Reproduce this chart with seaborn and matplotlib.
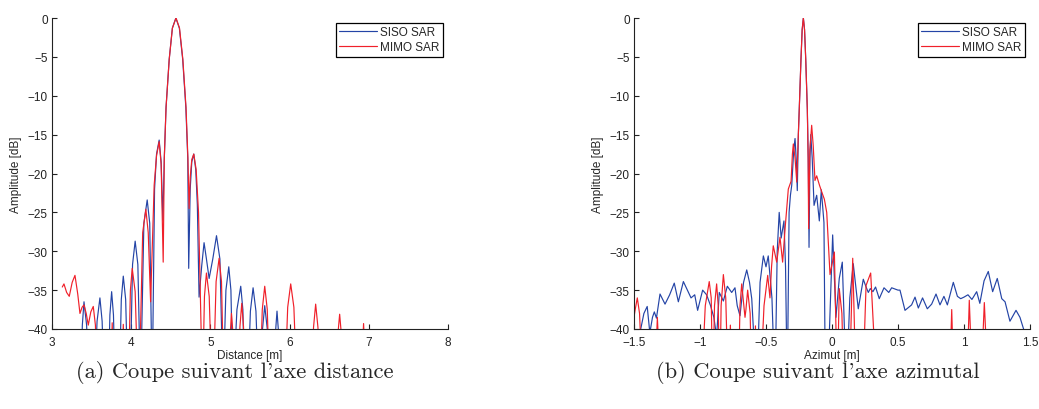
import numpy as np
import pandas as pd
import matplotlib
matplotlib.use("Agg")
import matplotlib.pyplot as plt
import seaborn as sns

# --- coupe suivant l'axe distance (dB values) ---
dist_siso_x = [3.15, 3.362, 3.383, 3.404, 3.437, 3.47, 3.533, 3.569, 3.605, 3.633, 3.66,
               3.71, 3.731, 3.753, 3.776, 3.80, 3.849, 3.875, 3.90, 3.93, 3.96,
               3.984, 4.017, 4.05, 4.084, 4.118, 4.16, 4.202, 4.234, 4.265,
               4.295, 4.32, 4.353, 4.378, 4.40, 4.418, 4.44, 4.48, 4.52, 4.564,
               4.608, 4.65, 4.69, 4.714, 4.726, 4.745, 4.765, 4.79, 4.815, 4.835,
               4.857, 4.89, 4.92, 4.95, 4.984, 5.03, 5.077, 5.12, 5.16, 5.196,
               5.232, 5.259, 5.286, 5.335, 5.383, 5.41, 5.434, 5.47, 5.505, 5.539,
               5.575, 5.61, 5.63, 5.658, 5.686, 5.718, 5.749, 5.80, 5.82, 5.841,
               5.862, 5.884, 7.0]
dist_siso_db = [-48, -48, -39.5, -36.5, -39.5, -48, -48, -39.0, -36.0, -39.0, -48,
                -48, -38.2, -35.2, -38.2, -48, -48, -36.2, -33.2, -36.2, -48,
                -48, -31.7, -28.7, -31.7, -48, -26.4, -23.4, -26.4, -48,
                -22.0, -17.5, -15.7, -18.5, -26.0, -18.0, -11.5, -5.3, -1.3, 0.0,
                -1.3, -5.3, -11.5, -18.0, -32.2, -22.0, -18.5, -17.5, -19.5, -24.0,
                -35.9, -31.9, -28.9, -31.0, -33.5, -31.0, -28.0, -31.0, -48, -35.0,
                -32.0, -35.0, -48, -37.5, -34.5, -37.5, -48, -48, -37.7, -34.7,
                -37.7, -48, -48, -40.0, -37.0, -40.0, -48, -48, -40.7, -37.7,
                -40.7, -48, -48]

dist_mimo_x = [3.13, 3.151, 3.185, 3.218, 3.255, 3.29, 3.325, 3.353, 3.38, 3.404,
               3.432, 3.458, 3.49, 3.521, 3.548, 3.571, 3.74, 3.76, 3.78, 3.88,
               3.90, 3.92, 3.962, 3.99, 4.013, 4.05, 4.088, 4.10, 4.145, 4.185,
               4.215, 4.245, 4.29, 4.32, 4.353, 4.378, 4.404, 4.418, 4.44, 4.48,
               4.52, 4.566, 4.61, 4.652, 4.692, 4.716, 4.731, 4.745, 4.765, 4.79,
               4.82, 4.85, 4.90, 4.925, 4.95, 4.985, 5.02, 5.034, 5.072, 5.11,
               5.14, 5.17, 5.23, 5.248, 5.266, 5.288, 5.31, 5.35, 5.373, 5.396,
               5.418, 5.44, 5.623, 5.655, 5.686, 5.718, 5.749, 5.938, 5.976, 6.014,
               6.054, 6.093, 6.275, 6.302, 6.329, 6.358, 6.388, 6.58, 6.606, 6.632,
               6.657, 6.682, 6.91, 6.922, 6.934, 6.945, 6.955, 7.0]
dist_mimo_db = [-34.6, -34.2, -35.3, -35.8, -34.0, -33.1, -35.5, -38.0, -37.2, -36.9,
                -38.0, -39.5, -37.8, -37.1, -39.5, -48, -48, -39.2, -48, -48,
                -39.4, -48, -48, -35.0, -32.2, -35.2, -48, -48, -27.6, -24.6,
                -27.6, -36.5, -21.5, -17.7, -15.9, -18.8, -31.4, -18.0, -11.5, -5.3,
                -1.3, 0.0, -1.3, -5.3, -11.5, -18.0, -24.5, -20.5, -18.2, -17.5,
                -19.5, -25.0, -48, -35.8, -32.8, -35.8, -48, -48, -33.9, -30.9,
                -33.9, -48, -48, -41.0, -38.0, -41.0, -48, -48, -39.7, -36.7,
                -39.7, -48, -48, -37.5, -34.5, -37.5, -48, -48, -37.2, -34.2,
                -37.2, -48, -48, -39.8, -36.8, -39.8, -48, -48, -41.1, -38.1,
                -41.1, -48, -48, -42.0, -39.3, -42.0, -48, -48]

# --- coupe suivant l'axe azimutal ---
azi_siso_x = [-1.50, -1.455, -1.425, -1.400, -1.38, -1.36, -1.346, -1.33, -1.303, -1.265,
              -1.23, -1.195, -1.164, -1.126, -1.09, -1.068, -1.04, -1.018, -0.98, -0.95,
              -0.92, -0.895, -0.874, -0.854, -0.823, -0.793, -0.76, -0.735, -0.718, -0.697,
              -0.67, -0.646, -0.625, -0.608, -0.57, -0.545, -0.52, -0.50, -0.483, -0.455,
              -0.432, -0.415, -0.400, -0.385, -0.364, -0.352, -0.339, -0.325, -0.315, -0.305,
              -0.29, -0.28, -0.27, -0.263, -0.255, -0.248, -0.235, -0.226, -0.217, -0.208,
              -0.199, -0.187, -0.180, -0.174, -0.167, -0.161, -0.150, -0.136, -0.116, -0.096,
              -0.081, -0.061, -0.05, -0.035, 0.005, 0.03, 0.055, 0.078, 0.109, 0.135,
              0.161, 0.199, 0.237, 0.256, 0.275, 0.29, 0.31, 0.33, 0.358, 0.394,
              0.43, 0.452, 0.50, 0.515, 0.553, 0.603, 0.629, 0.654, 0.686, 0.722,
              0.755, 0.788, 0.818, 0.848, 0.874, 0.919, 0.95, 0.975, 1.00, 1.03,
              1.06, 1.096, 1.12, 1.152, 1.184, 1.217, 1.252, 1.286, 1.311, 1.348,
              1.394, 1.424, 1.455, 1.47]
azi_siso_db = [-46, -40.5, -38.0, -37.1, -40.5, -38.5, -37.8, -38.6, -35.5, -36.8,
               -35.6, -34.1, -36.5, -33.9, -35.2, -36.0, -35.6, -37.6, -35.0, -35.6,
               -37.0, -38.5, -41.0, -35.3, -36.4, -34.5, -35.3, -34.7, -37.0, -38.3,
               -34.0, -32.4, -34.0, -36.1, -48, -34.0, -30.6, -32.0, -30.6, -36.0,
               -48, -30.0, -25.0, -28.3, -26.1, -32.0, -48, -25.0, -22.8, -21.5,
               -17.0, -15.5, -18.5, -22.2, -15.0, -11.7, -5.3, -1.5, 0.0, -1.5,
               -5.3, -11.7, -18.0, -29.5, -18.0, -15.0, -18.0, -24.1, -22.8, -26.1,
               -22.1, -26.3, -48, -48, -27.9, -38.5, -33.5, -31.4, -48, -36.0,
               -31.6, -37.4, -33.6, -34.5, -35.3, -34.8, -35.2, -34.6, -36.1, -34.7,
               -35.3, -34.7, -35.0, -35.0, -37.6, -36.9, -35.9, -37.3, -36.0, -37.4,
               -36.8, -35.5, -36.9, -35.8, -36.9, -34.0, -35.8, -36.1, -35.9, -35.6,
               -36.2, -35.2, -36.7, -33.8, -32.6, -35.2, -33.5, -36.1, -36.5, -39.0,
               -37.6, -38.5, -40.2, -44]

azi_mimo_x = [-1.50, -1.492, -1.475, -1.458, -1.434, -1.345, -1.323, -1.298, -0.99, -0.96,
              -0.93, -0.915, -0.904, -0.89, -0.874, -0.862, -0.85, -0.84, -0.823, -0.805,
              -0.786, -0.77, -0.755, -0.71, -0.697, -0.684, -0.665, -0.659, -0.652, -0.639,
              -0.62, -0.608, -0.585, -0.58, -0.575, -0.545, -0.515, -0.487, -0.47, -0.458,
              -0.445, -0.419, -0.394, -0.374, -0.355, -0.331, -0.31, -0.30, -0.293, -0.28,
              -0.267, -0.255, -0.248, -0.235, -0.226, -0.217, -0.208, -0.199, -0.187, -0.181,
              -0.177, -0.168, -0.154, -0.142, -0.129, -0.116, -0.095, -0.075, -0.058, -0.04,
              -0.015, 0.018, 0.04, 0.055, 0.075, 0.09, 0.131, 0.157, 0.182, 0.232,
              0.258, 0.293, 0.339, 0.889, 0.907, 0.924, 1.02, 1.04, 1.066, 1.126,
              1.154, 1.184, 1.5]
azi_mimo_db = [-38.5, -37.6, -36.0, -38.0, -48, -48, -38.5, -48, -48, -37.0,
               -33.9, -36.0, -48, -37.0, -34.2, -37.0, -48, -37.0, -33.0, -36.0,
               -48, -39.5, -48, -48, -37.0, -34.2, -37.5, -38.5, -37.5, -35.0,
               -38.0, -48, -48, -39.6, -48, -48, -37.0, -33.1, -36.0, -32.0,
               -29.3, -31.4, -28.2, -31.4, -27.0, -22.0, -21.0, -17.5, -16.2, -18.0,
               -21.1, -15.0, -11.7, -5.3, -1.5, 0.0, -1.5, -5.3, -11.7, -18.0,
               -27.1, -17.0, -13.8, -16.5, -20.9, -20.3, -21.5, -22.5, -23.3, -25.0,
               -33.0, -30.1, -48, -34.8, -38.0, -48, -48, -30.9, -48, -48,
               -34.4, -32.8, -48, -48, -37.5, -48, -48, -36.3, -48, -48,
               -36.6, -48, -48]

series_names = ["SISO SAR", "MIMO SAR"]
colors = {"SISO SAR": "#2444a6", "MIMO SAR": "#f0202a"}

sns.set_style("ticks")
plt.rcParams["font.family"] = ["Liberation Sans", "DejaVu Sans"]
plt.rcParams["xtick.direction"] = "in"
plt.rcParams["ytick.direction"] = "in"

W, H = 1039, 410
fig = plt.figure(figsize=(W / 100, H / 100), dpi=100)
ax1 = fig.add_axes([52 / W, 80 / H, 396 / W, 311 / H])
ax2 = fig.add_axes([634 / W, 80 / H, 396 / W, 311 / H])


def make_df(xs, ys):
    parts = []
    for name, x, y in zip(series_names, xs, ys):
        parts.append(pd.DataFrame({"x": x, "db": y, "serie": name}))
    return pd.concat(parts, ignore_index=True)


def draw(ax, df, xlim, xticks, xlabel):
    sns.lineplot(data=df, x="x", y="db", hue="serie", palette=colors, sort=False,
                 estimator=None, linewidth=0.85, ax=ax)
    ax.set_xlim(*xlim)
    ax.set_ylim(-40, 0)
    ax.set_xticks(xticks)
    ax.set_yticks(range(-40, 1, 5))
    ax.set_xlabel(xlabel, fontsize=8.5, labelpad=1)
    ax.set_ylabel("Amplitude [dB]", fontsize=8.5, labelpad=4)
    ax.tick_params(labelsize=8.5, length=3.5, width=0.8, colors="#222222")
    ax.tick_params(axis="x", pad=5)
    ax.tick_params(axis="y", pad=3)
    sns.despine(ax=ax)
    for s in ["left", "bottom"]:
        ax.spines[s].set_color("#222222")
        ax.spines[s].set_linewidth(0.8)
    leg = ax.legend(loc="upper right", fontsize=8.5, frameon=True, fancybox=False,
                    edgecolor="black", framealpha=1, handlelength=3.2, handletextpad=0.3,
                    labelspacing=0.25, borderpad=0.3, borderaxespad=0.4, title=None)
    leg.get_frame().set_linewidth(0.9)


draw(ax1, make_df([dist_siso_x, dist_mimo_x], [dist_siso_db, dist_mimo_db]),
     (3, 8), [3, 4, 5, 6, 7, 8], "Distance [m]")
draw(ax2, make_df([azi_siso_x, azi_mimo_x], [azi_siso_db, azi_mimo_db]),
     (-1.5, 1.5), [-1.5, -1, -0.5, 0, 0.5, 1, 1.5], "Azimut [m]")
ax2.set_xticklabels(["\u22121.5", "\u22121", "\u22120.5", "0", "0.5", "1", "1.5"])

fig.text(235 / W, 1 - 373 / H, "(a) Coupe suivant l'axe distance", family="cmr10",
         fontsize=16.2, ha="center", va="center")
fig.text(818 / W, 1 - 373 / H, "(b) Coupe suivant l'axe azimutal", family="cmr10",
         fontsize=16.2, ha="center", va="center")

fig.savefig("out.png", dpi=100)
